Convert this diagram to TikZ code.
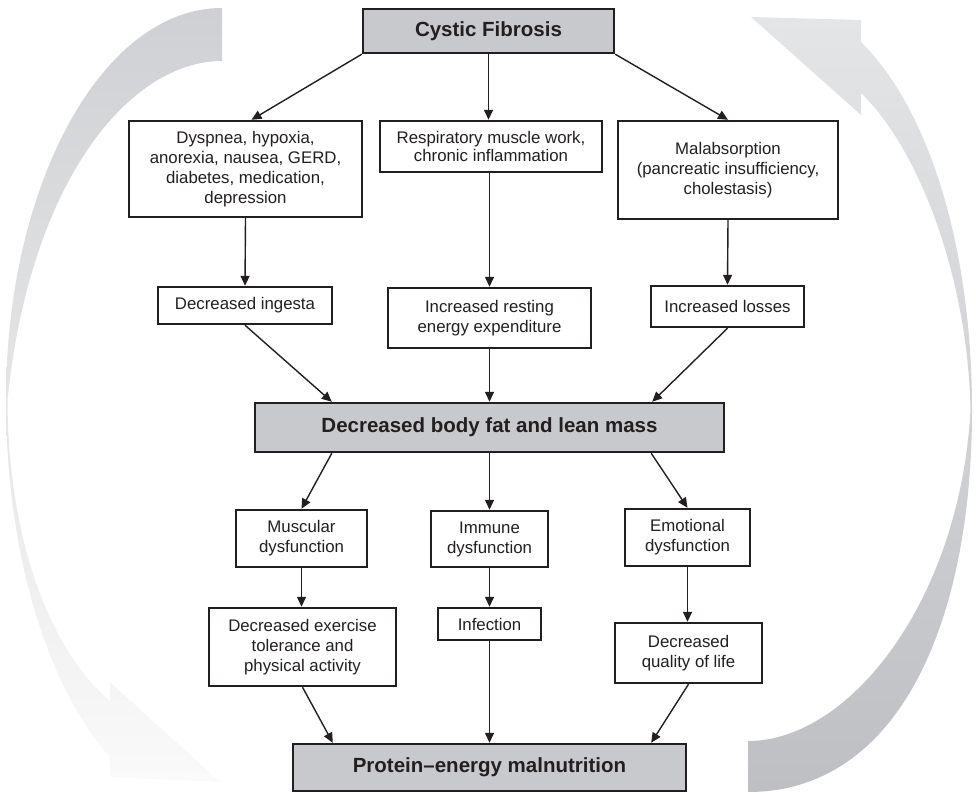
\documentclass[tikz,border=0pt]{standalone}
\usepackage{fontspec}
\setmainfont{Liberation Sans}
\usetikzlibrary{arrows.meta,calc}
\definecolor{linec}{RGB}{35,31,32}
\definecolor{boxgray}{RGB}{200,201,204}
\definecolor{lefttop}{RGB}{207,208,211}
\definecolor{leftbot}{RGB}{250,250,250}
\definecolor{righttop}{RGB}{228,229,231}
\definecolor{rightbot}{RGB}{190,191,194}
\newcommand{\cfreg}{\fontsize{16.8}{20}\selectfont}
\newcommand{\cftight}{\fontsize{16.8}{18}\selectfont}
\newcommand{\cfkey}{\fontsize{20.5}{24}\selectfont\bfseries}
\begin{document}
\begin{tikzpicture}[x=1pt,y=-1pt,
  boxnode/.style={draw=linec, line width=2.4pt, fill=white, inner sep=0pt, align=center, font=\cfreg, text=linec},
  keynode/.style={boxnode, fill=boxgray, font=\cfkey},
  conn/.style={draw=linec, line width=1.4pt, -{Triangle[length=10pt,width=9pt]}},
  bandl/.style={top color=lefttop, bottom color=leftbot, draw=none},
  bandr/.style={top color=righttop, bottom color=rightbot, draw=none}]
\useasboundingbox (0,0) rectangle (976,794);

% big curved arrows
\shade[bandl] (222,8) .. controls (102.7,8) and (6,183.5) .. (6,400)
  .. controls (6,560) and (50,690) .. (110,757) -- (110,777) -- (220,782) -- (110,682) -- (110,701)
  .. controls (50,650) and (8,540) .. (7.5,400)
  .. controls (30,180) and (130,61) .. (222,61) -- cycle;
\shade[bandr] (748,792) .. controls (900,792) and (972,620) .. (972,410)
  .. controls (972,250) and (930,110) .. (861,42) -- (861,20) -- (751,17) -- (861,115) -- (861,93)
  .. controls (920,150) and (968,280) .. (970.5,410)
  .. controls (960,600) and (850,741) .. (748,741) -- cycle;

% boxes
\node[keynode, minimum width=251pt, minimum height=44pt] (cf) at (488.5,31) {Cystic Fibrosis};
\node[boxnode, minimum width=233pt, minimum height=96pt] (a) at (245.5,169) {Dyspnea, hypoxia,\\anorexia, nausea, GERD,\\diabetes, medication,\\depression};
\node[boxnode, font=\cftight, minimum width=222pt, minimum height=51pt] (b) at (491,146.5) {Respiratory muscle work,\\chronic inflammation};
\node[boxnode, minimum width=220pt, minimum height=98pt] (c) at (728,170) {Malabsorption\\(pancreatic insufficiency,\\cholestasis)};
\node[boxnode, minimum width=174pt, minimum height=37pt] (d) at (245,305.5) {Decreased ingesta};
\node[boxnode, minimum width=203pt, minimum height=60pt] (e) at (489.5,318) {Increased resting\\energy expenditure};
\node[boxnode, minimum width=153pt, minimum height=41pt] (f) at (727.5,306.5) {Increased losses};
\node[keynode, minimum width=469pt, minimum height=49pt] (mass) at (489.5,427.5) {Decreased body fat and lean mass};
\node[boxnode, minimum width=131pt, minimum height=57pt] (musc) at (301.5,538.5) {Muscular\\dysfunction};
\node[boxnode, minimum width=117pt, minimum height=56pt] (imm) at (489.5,539) {Immune\\dysfunction};
\node[boxnode, minimum width=125pt, minimum height=57pt] (emo) at (687.5,537.5) {Emotional\\dysfunction};
\node[boxnode, minimum width=187pt, minimum height=78pt] (exer) at (302.5,647) {Decreased exercise\\tolerance and\\physical activity};
\node[boxnode, minimum width=103pt, minimum height=32pt] (inf) at (489.5,624) {Infection};
\node[boxnode, minimum width=147pt, minimum height=60pt] (qual) at (688.5,653) {Decreased\\quality of life};
\node[keynode, minimum width=393pt, minimum height=47pt] (pem) at (489.5,767.5) {Protein–energy malnutrition};

% connectors
\draw[conn] (cf.south west) -- ($(a.north)+(6,0)$);
\draw[conn] (cf.south) -- (cf.south |- b.north);
\draw[conn] (cf.south east) -- (c.north);
\draw[conn] (a.south) -- (d.north);
\draw[conn] (b.south -| e.north) -- (e.north);
\draw[conn] (c.south) -- (f.north);
\draw[conn] (d.south) -- ($(mass.north west)+(78,0)$);
\draw[conn] (e.south) -- (mass.north);
\draw[conn] (f.south) -- ($(mass.north east)+(-73,0)$);
\draw[conn] ($(mass.south west)+(78,0)$) -- (musc.north);
\draw[conn] (mass.south) -- (imm.north);
\draw[conn] ($(mass.south east)+(-74,0)$) -- (emo.north);
\draw[conn] (musc.south) -- (musc.south |- exer.north);
\draw[conn] (imm.south) -- (inf.north);
\draw[conn] (emo.south) -- (emo.south |- qual.north);
\draw[conn] (exer.south) -- ($(pem.north west)+(41,0)$);
\draw[conn] (inf.south) -- (pem.north);
\draw[conn] (qual.south) -- ($(pem.north east)+(-36,0)$);
\end{tikzpicture}
\end{document}
